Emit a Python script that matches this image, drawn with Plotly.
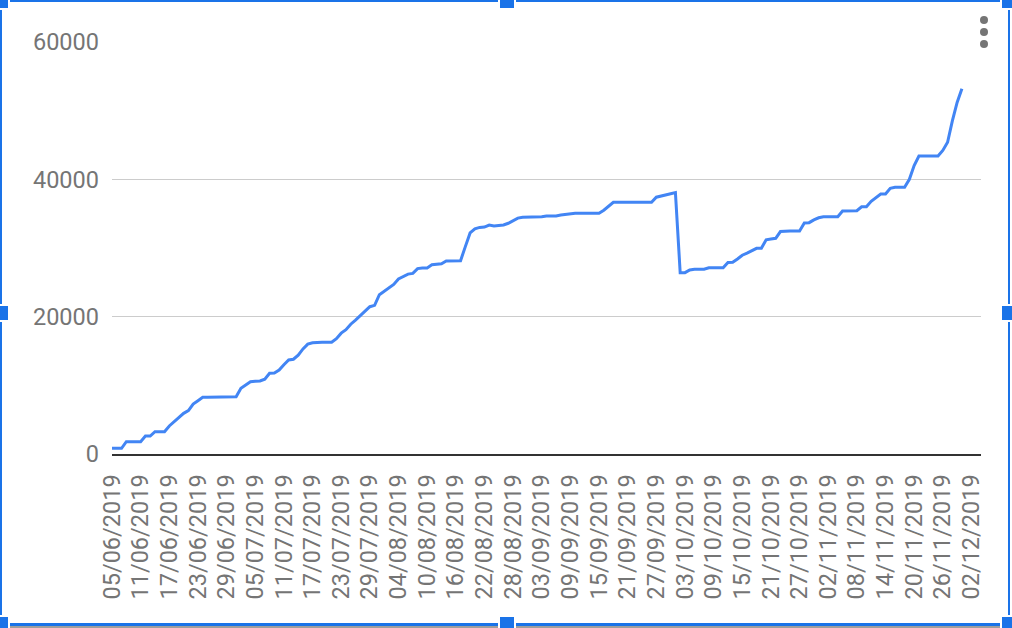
import pandas as pd
import plotly.graph_objects as go

# ---- data ----
start_date = "2019-06-05"
values = [
    830, 830, 830, 1790, 1790, 1790, 1790, 2620, 2620, 3250,          # 0-9
    3250, 3250, 4080, 4710, 5200, 5920, 6310, 7280, 7770, 8250,       # 10-19
    8250, 8250, 8250, 8250, 8250, 8300, 8350, 9570, 10100, 10530,     # 20-29
    10580, 10630, 10900, 11750, 11800, 12230, 13000, 13700, 13800, 14400,  # 30-39
    15300, 16000, 16200, 16270, 16270, 16270, 16270, 16800, 17600, 18100,  # 40-49
    18900, 19500, 20100, 20800, 21450, 21650, 23200, 23700, 24300, 24700,  # 50-59
    25500, 25900, 26200, 26300, 27000, 27100, 27100, 27550, 27600, 27700,  # 60-69
    28100, 28150, 28150, 28150, 30200, 32200, 32800, 33000, 33050, 33350,  # 70-79
    33200, 33300, 33350, 33600, 34000, 34350, 34470, 34470, 34470, 34470,  # 80-89
    34550, 34660, 34660, 34660, 34800, 34900, 35000, 35050, 35050, 35050,  # 90-99
    35050, 35050, 35050, 35500, 36100, 36650, 36650, 36650, 36650, 36650,  # 100-109
    36650, 36650, 36650, 36650, 37400, 37600, 37800, 37900, 38060, 26410,  # 110-119
    26410, 26800, 26900, 26900, 26900, 27130, 27130, 27130, 27130, 27900,  # 120-129
    27920, 28400, 28950, 29250, 29600, 29950, 29950, 31200, 31300, 31410,  # 130-139
    32400, 32480, 32480, 32480, 32480, 33650, 33690, 34100, 34400, 34560,  # 140-149
    34560, 34560, 34560, 35400, 35440, 35440, 35440, 36000, 36020, 36800,  # 150-159
    37400, 37860, 37860, 38700, 38840, 38840, 38840, 40000, 42000, 43400,  # 160-169
    43400, 43400, 43400, 43400, 44200, 45400, 48500, 51200, 53200,         # 170-178
]
dates = pd.date_range(start_date, periods=len(values), freq="D")

tick_labels = [
    "05/06/2019", "11/06/2019", "17/06/2019", "23/06/2019", "29/06/2019",
    "05/07/2019", "11/07/2019", "17/07/2019", "23/07/2019", "29/07/2019",
    "04/08/2019", "10/08/2019", "16/08/2019", "22/08/2019", "28/08/2019",
    "03/09/2019", "09/09/2019", "15/09/2019", "21/09/2019", "27/09/2019",
    "03/10/2019", "09/10/2019", "15/10/2019", "21/10/2019", "27/10/2019",
    "02/11/2019", "08/11/2019", "14/11/2019", "20/11/2019", "26/11/2019",
    "02/12/2019",
]
tick_vals = [pd.to_datetime(t, format="%d/%m/%Y") for t in tick_labels]
y_ticks = [0, 20000, 40000, 60000]
x_range = ["2019-06-05", "2019-12-04"]

# ---- figure ----
W, H = 1012, 628
L, R, T, B = 112, 31, 42, 174
pw, ph = W - L - R, H - T - B

def px(x):
    return (x - L) / pw

def py(y):
    return (H - B - y) / ph

fig = go.Figure()
fig.add_trace(go.Scatter(
    x=dates, y=values, mode="lines",
    line=dict(color="#4285F4", width=3),
    hoverinfo="x+y", showlegend=False,
))

TXT = "#757575"
fig.update_layout(
    width=W, height=H,
    margin=dict(l=L, r=R, t=T, b=B, pad=0),
    paper_bgcolor="white", plot_bgcolor="white",
    font=dict(family="Roboto, Arial, sans-serif", size=24, color=TXT),
    xaxis=dict(
        type="date", range=x_range,
        tickmode="array", tickvals=tick_vals, ticktext=tick_labels,
        tickangle=-90, showgrid=False, zeroline=False,
        showline=True, linecolor="#333333", linewidth=2,
        ticks="", ticklabelstandoff=9,
        tickfont=dict(size=23.5, color=TXT),
    ),
    yaxis=dict(
        range=[0, 60000], tickmode="array", tickvals=y_ticks,
        ticktext=[str(v) for v in y_ticks],
        showgrid=True, gridcolor="#cccccc", gridwidth=1,
        zeroline=False, showline=False, ticks="",
        ticklabelstandoff=12,
        tickfont=dict(size=23.5, color=TXT),
    ),
)

# ---- decorations: selection frame and menu dots ----
BLUE = "#1a73e8"
shapes = []

def rect(x0, y0, x1, y1, color):
    shapes.append(dict(type="rect", xref="paper", yref="paper",
                       x0=px(x0), x1=px(x1), y0=py(y1), y1=py(y0),
                       fillcolor=color, line=dict(width=0), layer="above"))

rect(0, 0, W, 2, BLUE)            # top
rect(0, 623, W, 626, BLUE)        # bottom
rect(0, 626, W, 628, "#9e9e9e")   # sheet edge
rect(0, 0, 2, H, BLUE)            # left
rect(1008, 0, 1010, H, BLUE)      # right
for cx, cy in [(1, 1), (507, 1), (1009, 1), (1, 313), (1009, 313),
               (1, 624), (507, 624), (1009, 624)]:
    rect(cx - 9, cy - 9, cx + 9, cy + 9, "white")
    rect(cx - 7, cy - 7, cx + 7, cy + 7, BLUE)
for cy in (20, 32, 44):
    shapes.append(dict(type="circle", xref="paper", yref="paper",
                       x0=px(980), x1=px(988), y0=py(cy + 4), y1=py(cy - 4),
                       fillcolor="#757575", line=dict(width=0), layer="above"))
fig.update_layout(shapes=shapes)

fig.write_html(
    "out.html",
    config={"displayModeBar": False},
    post_script="document.body.style.margin='0';document.body.style.overflow='hidden';",
)
